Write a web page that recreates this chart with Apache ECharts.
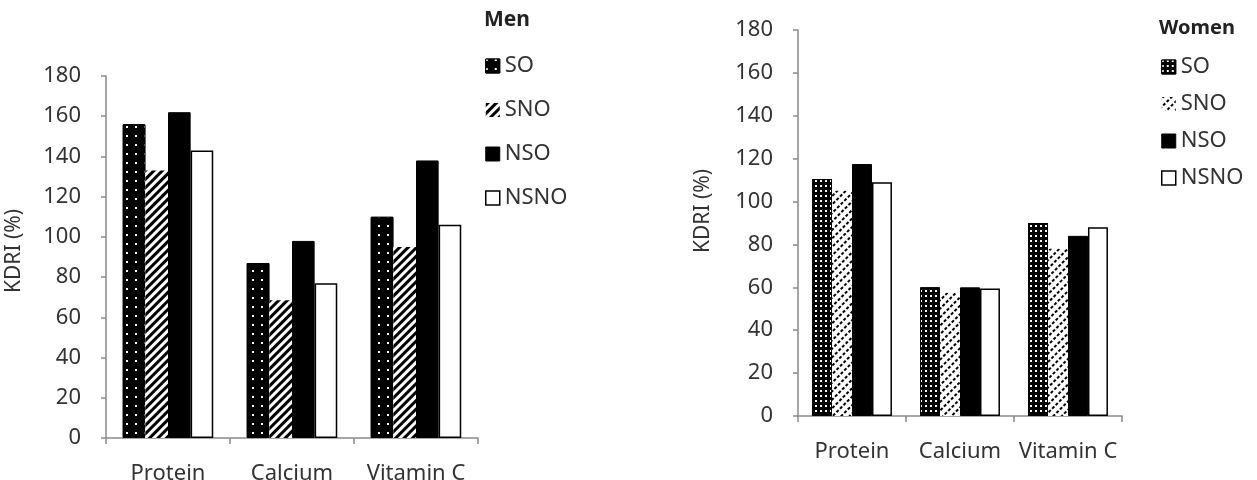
<!DOCTYPE html>
<html>
<head>
<meta charset="utf-8">
<script src="https://cdn.jsdelivr.net/npm/echarts@6/dist/echarts.min.js"></script>
<style>
html,body{margin:0;padding:0;background:#fff;}
#c{width:1257px;height:480px;}
</style>
</head>
<body>
<div id="c"></div>
<script>
const categories = ['Protein', 'Calcium', 'Vitamin C'];
const seriesNames = ['SO', 'SNO', 'NSO', 'NSNO'];
const yTicks = [0, 20, 40, 60, 80, 100, 120, 140, 160, 180];
const yAxisTitle = 'KDRI (%)';
const menTitle = 'Men';
const womenTitle = 'Women';
const menSO = [156, 87, 110];
const menSNO = [133, 68.5, 95];
const menNSO = [162, 98, 138];
const menNSNO = [143, 77, 106];
const womenSO = [110.5, 60, 90];
const womenSNO = [105, 57.5, 78];
const womenNSO = [117.5, 60, 84];
const womenNSNO = [109, 59.5, 88];

const FONT = 'Noto Sans';
const AX = '#8a8a8a';
const TXT = '#333';

function styles(dense) {
  return [
    { color: '#000', borderColor: '#000', borderWidth: 1,
      decal: { symbol: 'rect', color: '#fff', backgroundColor: '#000', symbolSize: 1,
               dashArrayX: dense ? [2, 3] : [2, 7], dashArrayY: dense ? [2, 3] : [2, 7] } },
    { color: '#fff', borderWidth: 0,
      decal: dense
        ? { symbol: 'rect', color: '#000', backgroundColor: '#fff', symbolSize: 1,
            dashArrayX: [3, 2], dashArrayY: [1.5, 3.5], rotation: -Math.PI / 4 }
        : { symbol: 'rect', color: '#000', backgroundColor: '#fff', symbolSize: 1,
            dashArrayX: [1, 0], dashArrayY: [3, 3], rotation: -Math.PI / 4 } },
    { color: '#000', borderColor: '#000', borderWidth: 1 },
    { color: '#fff', borderColor: '#000', borderWidth: 1.5 }
  ];
}

const menData = [menSO, menSNO, menNSO, menNSNO];
const womenData = [womenSO, womenSNO, womenNSO, womenNSNO];

function yAxis(gridIndex) {
  return {
    gridIndex, type: 'value', min: 0, max: 180, interval: 20,
    axisLine: { show: true, lineStyle: { color: AX, width: 1.5 } },
    axisTick: { show: true, length: 5, lineStyle: { color: AX, width: 1.5 } },
    splitLine: { show: false },
    axisLabel: { fontFamily: FONT, fontSize: 22, color: TXT, margin: 25,
                 formatter: v => yTicks.includes(v) ? String(v) : '' }
  };
}
function xAxis(gridIndex) {
  return {
    gridIndex, type: 'category', data: categories,
    axisLine: { lineStyle: { color: AX, width: 1.5 } },
    axisTick: { show: true, length: 6, lineStyle: { color: AX, width: 1.5 } },
    axisLabel: { fontFamily: FONT, fontSize: 22, color: TXT, margin: 25, interval: 0, hideOverlap: false }
  };
}

const series = [];
const sm = styles(false), sw = styles(true);
seriesNames.forEach((n, i) => {
  series.push({ name: n, type: 'bar', xAxisIndex: 0, yAxisIndex: 0, data: menData[i],
    barGap: 0, barCategoryGap: '27%', itemStyle: sm[i], emphasis: { disabled: true } });
});
seriesNames.forEach((n, i) => {
  series.push({ name: n, type: 'bar', xAxisIndex: 1, yAxisIndex: 1, data: womenData[i],
    barGap: 0, barCategoryGap: '26%', itemStyle: sw[i], emphasis: { disabled: true } });
});

const legendBase = {
  orient: 'vertical', itemWidth: 14, itemHeight: 14,
  textStyle: { fontFamily: FONT, fontSize: 22, color: TXT },
  selectedMode: false, icon: 'rect'
};

const chart = echarts.init(document.getElementById('c'), null, { renderer: 'canvas' });
chart.setOption({
  animation: false,
  backgroundColor: '#fff',
  title: [
    { text: menTitle, left: 479, top: 5, textStyle: { fontFamily: FONT, fontSize: 21, fontWeight: 'bold', color: '#222' } },
    { text: womenTitle, left: 1154, top: 13, textStyle: { fontFamily: FONT, fontSize: 20, fontWeight: 'bold', color: '#222' } }
  ],
  grid: [
    { left: 106, right: 779, top: 76, bottom: 42, containLabel: false, outerBoundsMode: 'none' },
    { left: 798, right: 135, top: 30, bottom: 64, containLabel: false, outerBoundsMode: 'none' }
  ],
  xAxis: [xAxis(0), xAxis(1)],
  yAxis: [yAxis(0), yAxis(1)],
  legend: [
    Object.assign({}, legendBase, { left: 480, top: 50, itemGap: 22,
      data: seriesNames.map((n, i) => ({ name: n, itemStyle: sm[i] })) }),
    Object.assign({}, legendBase, { left: 1156, top: 51, itemGap: 15,
      data: seriesNames.map((n, i) => ({ name: n, itemStyle: sw[i] })) })
  ],
  graphic: [
    { type: 'text', x: 14, y: 251, rotation: Math.PI / 2,
      style: { text: yAxisTitle, font: '21px "Noto Sans"', fill: TXT, align: 'center', verticalAlign: 'middle' } },
    { type: 'text', x: 703, y: 211, rotation: Math.PI / 2,
      style: { text: yAxisTitle, font: '21px "Noto Sans"', fill: TXT, align: 'center', verticalAlign: 'middle' } }
  ],
  series
});
</script>
</body>
</html>
